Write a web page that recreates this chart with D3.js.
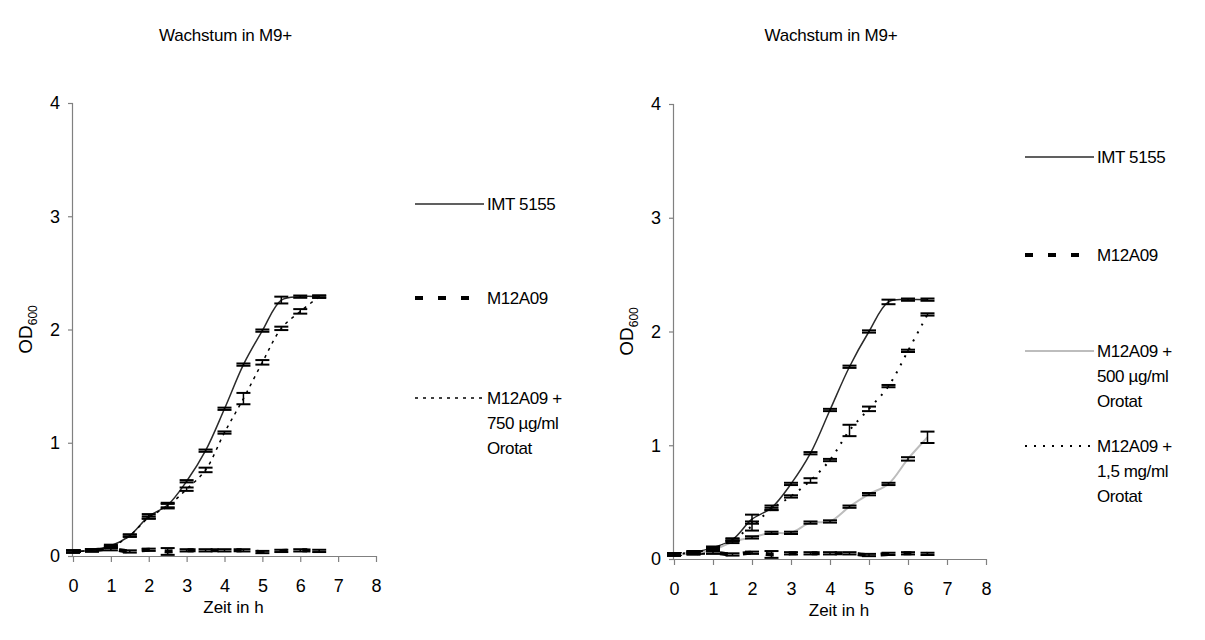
<!DOCTYPE html>
<html>
<head>
<meta charset="utf-8">
<script src="https://cdn.jsdelivr.net/npm/d3@7"></script>
<style>
  body { margin: 0; background: #fff; }
  text { font-family: Arial, "Liberation Sans", sans-serif; fill: #000; }
</style>
</head>
<body>
<div id="chart"></div>
<script>
// time points (h)
var hours = [0, 0.5, 1, 1.5, 2, 2.5, 3, 3.5, 4, 4.5, 5, 5.5, 6, 6.5];
var xTicks = [0, 1, 2, 3, 4, 5, 6, 7, 8];
var yTicks = [0, 1, 2, 3, 4];

// left panel
var leftImt      = [0.04, 0.05, 0.09, 0.18, 0.35, 0.45, 0.66, 0.93, 1.30, 1.69, 1.99, 2.26, 2.29, 2.29];
var leftImtErr   = [0.01, 0.01, 0.01, 0.01, 0.02, 0.02, 0.01, 0.01, 0.01, 0.01, 0.01, 0.03, 0.01, 0.01];
var leftMut      = [0.04, 0.05, 0.06, 0.04, 0.055, 0.04, 0.05, 0.05, 0.05, 0.05, 0.035, 0.045, 0.05, 0.045];
var leftMutErr   = [0.01, 0.01, 0.01, 0.01, 0.01, 0.03, 0.01, 0.01, 0.01, 0.01, 0.01, 0.01, 0.01, 0.01];
var left750      = [0.04, 0.05, 0.08, 0.18, 0.34, 0.44, 0.59, 0.76, 1.09, 1.39, 1.71, 2.01, 2.16, 2.29];
var left750Err   = [0.01, 0.01, 0.01, 0.01, 0.01, 0.02, 0.015, 0.02, 0.01, 0.05, 0.02, 0.015, 0.02, 0.01];

// right panel
var rightImt     = [0.04, 0.06, 0.10, 0.17, 0.35, 0.45, 0.66, 0.93, 1.31, 1.69, 2.00, 2.26, 2.28, 2.28];
var rightImtErr  = [0.01, 0.01, 0.01, 0.01, 0.04, 0.02, 0.01, 0.01, 0.01, 0.01, 0.01, 0.02, 0.01, 0.01];
var rightMut     = [0.04, 0.05, 0.055, 0.04, 0.055, 0.04, 0.05, 0.05, 0.05, 0.05, 0.035, 0.045, 0.05, 0.045];
var rightMutErr  = [0.01, 0.01, 0.01, 0.01, 0.01, 0.03, 0.01, 0.01, 0.01, 0.01, 0.01, 0.01, 0.01, 0.01];
var right500     = [0.04, 0.05, 0.08, 0.15, 0.19, 0.23, 0.23, 0.32, 0.33, 0.46, 0.57, 0.66, 0.88, 1.07];
var right500Err  = [0.01, 0.01, 0.01, 0.01, 0.01, 0.01, 0.01, 0.01, 0.01, 0.01, 0.01, 0.01, 0.015, 0.05];
var right1500    = [0.04, 0.06, 0.09, 0.17, 0.29, 0.44, 0.55, 0.69, 0.87, 1.13, 1.32, 1.52, 1.83, 2.15];
var right1500Err = [0.01, 0.01, 0.01, 0.01, 0.04, 0.01, 0.01, 0.02, 0.01, 0.05, 0.02, 0.01, 0.01, 0.01];

var styles = {
  imt:  { stroke: "#2b2b2b", width: 1.5, dash: null },
  mut:  { stroke: "#000", width: 4, dash: "8,15" },
  d750: { stroke: "#000", width: 1.5, dash: "3,5" },
  g500: { stroke: "#bdbdbd", width: 2, dash: null },
  d15:  { stroke: "#000", width: 2, dash: "2,7" }
};

var svg = d3.select("#chart").append("svg")
  .attr("width", 1205)
  .attr("height", 640);

function drawPanel(p) {
  var x = d3.scaleLinear().domain([0, 8]).range([p.x0, p.x1]);
  var y = d3.scaleLinear().domain([0, 4]).range([p.y0, p.y1]);
  var g = svg.append("g");

  // title
  g.append("text")
   .attr("x", (p.x0 + p.x1) / 2 + 1)
   .attr("y", 41)
   .attr("text-anchor", "middle")
   .attr("font-size", "17px")
   .attr("letter-spacing", "-0.2px")
   .text("Wachstum in M9+");

  // axes
  var xAxis = g.append("g")
   .attr("transform", "translate(0," + p.y0 + ")")
   .call(d3.axisBottom(x).tickValues(xTicks).tickSize(6).tickPadding(17).tickFormat(d3.format("d")));
  var yAxis = g.append("g")
   .attr("transform", "translate(" + p.x0 + ",0)")
   .call(d3.axisLeft(y).tickValues(yTicks).tickSize(5).tickPadding(8).tickFormat(d3.format("d")));
  [xAxis, yAxis].forEach(function(a) {
    a.select(".domain").attr("stroke", "#808080").attr("stroke-width", 1.2);
    a.selectAll(".tick line").attr("stroke", "#808080").attr("stroke-width", 1.2);
    a.selectAll(".tick text").attr("font-size", "18px")
     .attr("font-family", "Arial, 'Liberation Sans', sans-serif");
  });
  xAxis.select(".domain").attr("d", "M" + p.x0 + ",0.5H" + p.x1);
  yAxis.select(".domain").attr("d", "M-0.5," + p.y0 + "V" + p.y1);

  // axis titles
  g.append("text")
   .attr("x", (p.x0 + p.x1) / 2 + 9)
   .attr("y", p.y0 + 57)
   .attr("text-anchor", "middle")
   .attr("font-size", "17px")
   .text("Zeit in h");

  var yl = g.append("text")
   .attr("transform", "translate(" + (p.x0 - 41) + "," + ((p.y0 + p.y1) / 2) + ") rotate(-90)")
   .attr("text-anchor", "middle")
   .attr("font-size", "19px");
  yl.append("tspan").text("OD");
  yl.append("tspan").attr("font-size", "12px").attr("dy", 5).text("600");

  var line = d3.line()
    .x(function(d) { return x(d[0]); })
    .y(function(d) { return y(d[1]); })
    .curve(d3.curveCatmullRom);

  p.series.forEach(function(s) {
    var pts = hours.map(function(h, i) { return [h, s.values[i]]; });
    var st = styles[s.style];
    g.append("path")
     .datum(pts)
     .attr("fill", "none")
     .attr("stroke", st.stroke)
     .attr("stroke-width", st.width)
     .attr("stroke-dasharray", st.dash)
     .attr("d", line);
  });

  // error bars on top
  p.series.forEach(function(s) {
    var eb = g.append("g").attr("stroke", "#000").attr("stroke-width", 2);
    hours.forEach(function(h, i) {
      var v = s.values[i], e = s.errs[i];
      var cx = x(h), yt = y(v + e), yb = y(v - e);
      eb.append("line").attr("x1", cx).attr("x2", cx).attr("y1", yt).attr("y2", yb).attr("stroke-width", 1.5);
      eb.append("line").attr("x1", cx - 7).attr("x2", cx + 7).attr("y1", yt).attr("y2", yt);
      eb.append("line").attr("x1", cx - 7).attr("x2", cx + 7).attr("y1", yb).attr("y2", yb);
    });
  });

  // legend
  p.legend.forEach(function(l) {
    var st = styles[l.style];
    g.append("line")
     .attr("x1", p.lx).attr("x2", p.lx + 69)
     .attr("y1", l.y).attr("y2", l.y)
     .attr("stroke", st.stroke)
     .attr("stroke-width", st.width)
     .attr("stroke-dasharray", st.dash);
    var t = g.append("text").attr("font-size", "17px").attr("letter-spacing", "-0.4px");
    l.lines.forEach(function(txt, k) {
      t.append("tspan").attr("x", p.lx + 72).attr("y", l.y + 6 + k * 25).text(txt);
    });
  });
}

drawPanel({
  x0: 73, x1: 376, y0: 556, y1: 103, lx: 415,
  series: [
    { values: leftImt, errs: leftImtErr, style: "imt" },
    { values: leftMut, errs: leftMutErr, style: "mut" },
    { values: left750, errs: left750Err, style: "d750" }
  ],
  legend: [
    { y: 204, style: "imt", lines: ["IMT 5155"] },
    { y: 298, style: "mut", lines: ["M12A09"] },
    { y: 398, style: "d750", lines: ["M12A09 +", "750 µg/ml", "Orotat"] }
  ]
});

drawPanel({
  x0: 674, x1: 986, y0: 559, y1: 104, lx: 1025,
  series: [
    { values: rightImt, errs: rightImtErr, style: "imt" },
    { values: rightMut, errs: rightMutErr, style: "mut" },
    { values: right500, errs: right500Err, style: "g500" },
    { values: right1500, errs: right1500Err, style: "d15" }
  ],
  legend: [
    { y: 157, style: "imt", lines: ["IMT 5155"] },
    { y: 255, style: "mut", lines: ["M12A09"] },
    { y: 351, style: "g500", lines: ["M12A09 +", "500 µg/ml", "Orotat"] },
    { y: 446, style: "d15", lines: ["M12A09 +", "1,5 mg/ml", "Orotat"] }
  ]
});
</script>
</body>
</html>
